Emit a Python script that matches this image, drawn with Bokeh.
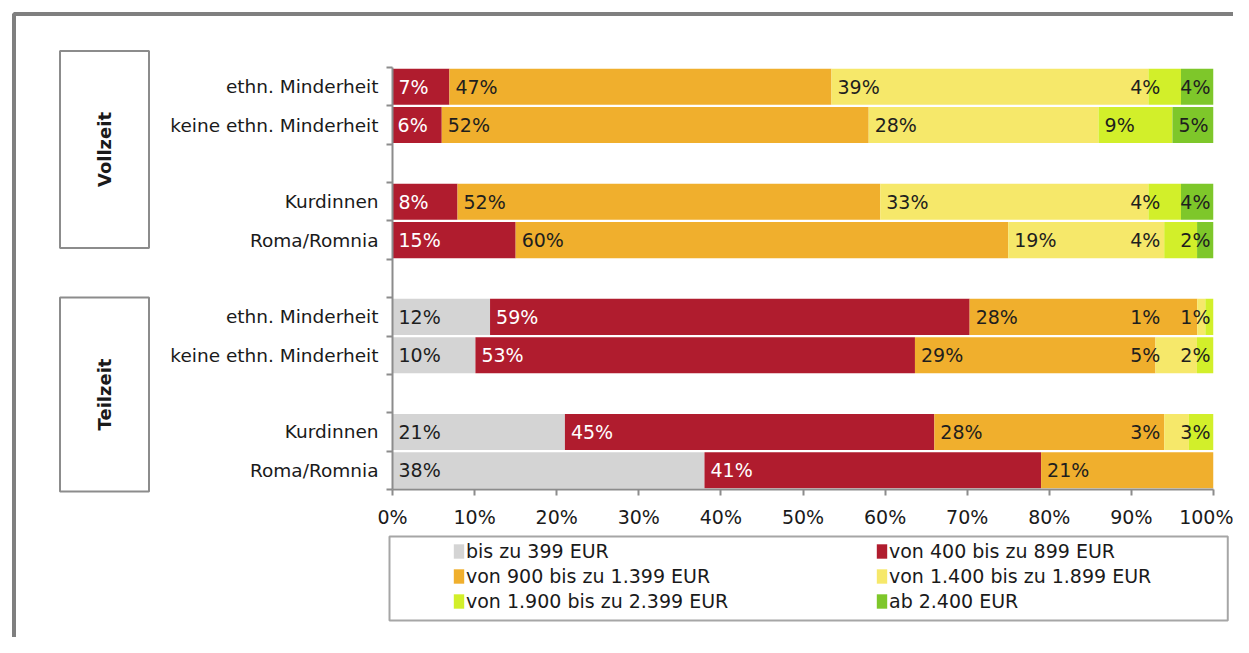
import numpy as np
from bokeh.plotting import figure
from bokeh.layouts import row, column
from bokeh.models import (Range1d, FixedTicker, Label, Legend, LegendItem)
from bokeh.core.properties import value
from bokeh.embed import file_html
from bokeh.resources import INLINE

# ---------------- data ----------------
groups = ["Vollzeit", "Teilzeit"]
categories = ["ethn. Minderheit", "keine ethn. Minderheit", "Kurdinnen", "Roma/Romnia",
              "ethn. Minderheit", "keine ethn. Minderheit", "Kurdinnen", "Roma/Romnia"]
series_names = ["bis zu 399 EUR", "von 400 bis zu 899 EUR", "von 900 bis zu 1.399 EUR",
                "von 1.400 bis zu 1.899 EUR", "von 1.900 bis zu 2.399 EUR", "ab 2.400 EUR"]
bis_399 = [0, 0, 0, 0, 12, 10, 21, 38]
von_400 = [7, 6, 8, 15, 59, 53, 45, 41]
von_900 = [47, 52, 52, 60, 28, 29, 28, 21]
von_1400 = [39, 28, 33, 19, 1, 5, 3, 0]
von_1900 = [4, 9, 4, 4, 1, 2, 3, 0]
ab_2400 = [4, 5, 4, 2, 0, 0, 0, 0]
colors = ["#d4d4d4", "#b01c2e", "#f0af2d", "#f6e86a", "#d2ef2a", "#7ec72a"]
label_colors = ["#1e1e1e", "#ffffff", "#1e1e1e", "#1e1e1e", "#1e1e1e", "#1e1e1e"]
x_ticks = [0, 10, 20, 30, 40, 50, 60, 70, 80, 90, 100]
x_tick_labels = ["0%", "10%", "20%", "30%", "40%", "50%", "60%", "70%", "80%", "90%", "100%"]

series = [bis_399, von_400, von_900, von_1400, von_1900, ab_2400]

# ---------------- layout constants (page pixels) ----------------
TOTAL_W, TOTAL_H = 1233, 637
DECO_W = 160                      # left strip with the group boxes
MAIN_H = 530                      # bars + x axis
LEG_H = TOTAL_H - MAIN_H          # legend strip
MAIN_W = TOTAL_W - DECO_W
FRAME_L, FRAME_T, FRAME_R, FRAME_B = 392, 67, 1213, 490
FONT = "DejaVu Sans"
GRAY = "#8c8c8c"
FRAME_GRAY = "#7f7f7f"

n = len(categories)
slots = [i + i // 2 for i in range(n)]          # blank slot after each pair
n_slots = slots[-1] + 1
centers = [s + 0.5 for s in slots]


def box_label(x, y, pad, color, width, fill=None):
    return Label(x=x, y=y, x_units="canvas", y_units="canvas", text=" ",
                 text_font_size="1px", text_align="left", text_baseline="top",
                 padding=pad, border_line_color=color, border_line_width=width,
                 background_fill_color=fill)


def plain(fig):
    fig.grid.visible = False
    fig.outline_line_color = None
    fig.background_fill_color = "white"
    fig.border_fill_color = "white"
    fig.frame_align = False


# ---------------- main figure ----------------
p = figure(width=MAIN_W, height=MAIN_H, output_backend="svg", toolbar_location=None,
           x_range=Range1d(0, 100), y_range=Range1d(n_slots, 0),
           min_border_left=FRAME_L - DECO_W, min_border_right=TOTAL_W - FRAME_R,
           min_border_top=FRAME_T, min_border_bottom=MAIN_H - FRAME_B)
plain(p)
PX = (FRAME_R - FRAME_L) / 100.0

# stacked (100%) bars
totals = [sum(s[i] for s in series) for i in range(n)]
norm = [[s[i] * 100.0 / totals[i] for i in range(n)] for s in series]
lefts = []
cum = [0.0] * n
for k, s in enumerate(norm):
    left = list(cum)
    right = [cum[i] + s[i] for i in range(n)]
    lefts.append(left)
    p.hbar(y=centers, left=left, right=right, height=0.94,
           fill_color=colors[k], line_color=None)
    cum = right

# value labels (left-aligned at segment start, pushed left if they would collide)
def text_w(t):
    return sum(12.1 if ch.isdigit() else 18.05 for ch in t)

lx, ly, lt, lc = [], [], [], []
for i in range(n):
    segs = [(lefts[k][i], series[k][i], k) for k in range(len(series)) if series[k][i] > 0]
    limit = 100 - 3 / PX
    for start, v, k in reversed(segs):
        t = f"{v}%"
        w = text_w(t) / PX
        x = min(start + 6 / PX, limit - w)
        limit = x - 20 / PX
        lx.append(x); ly.append(centers[i]); lt.append(t); lc.append(label_colors[k])
p.text(x=lx, y=ly, text=lt, text_color=lc, text_font=value(FONT), text_font_size="19px",
       text_align="left", text_baseline="middle")

# y axis
yax = p.yaxis[0]
yax.ticker = FixedTicker(ticks=centers, minor_ticks=list(range(n_slots + 1)))
yax.major_label_overrides = {c: lab for c, lab in zip(centers, categories)}
yax.axis_line_color = GRAY
yax.axis_line_width = 2
yax.major_tick_out = 0
yax.major_tick_in = 0
yax.minor_tick_out = 6
yax.minor_tick_in = 0
yax.minor_tick_line_color = GRAY
yax.minor_tick_line_width = 2
yax.major_label_standoff = 8
yax.major_label_text_font = FONT
yax.major_label_text_font_size = "18.5px"
yax.major_label_text_color = "#1a1a1a"

# x axis
xax = p.xaxis[0]
xax.ticker = FixedTicker(ticks=x_ticks, minor_ticks=[])
xax.major_label_overrides = {t: l for t, l in zip(x_ticks, x_tick_labels)}
xax.axis_line_color = GRAY
xax.axis_line_width = 2
xax.major_tick_out = 6
xax.major_tick_in = 0
xax.major_tick_line_color = GRAY
xax.major_tick_line_width = 2
xax.minor_tick_line_color = None
xax.major_label_standoff = 10
xax.major_label_text_font = FONT
xax.major_label_text_font_size = "19px"
xax.major_label_text_color = "#1a1a1a"

# top line of the outer frame (thin band in the top panel)
p.add_layout(box_label(-10, 11.5, (0, 1400, 0, 3), None, 0, fill=FRAME_GRAY), "above")

# ---------------- left strip: outer frame + group boxes ----------------
d = figure(width=DECO_W, height=TOTAL_H, output_backend="svg", toolbar_location=None,
           x_range=Range1d(0, 1), y_range=Range1d(0, 1),
           x_axis_location=None, y_axis_location=None,
           min_border_left=0, min_border_right=0, min_border_top=0, min_border_bottom=0)
plain(d)
d.add_layout(box_label(13.5, 13.5, (0, 1300, 0, 900), FRAME_GRAY, 4))
for g, yc in zip(groups, [149, 394]):
    d.add_layout(Label(x=104, y=yc, x_units="canvas", y_units="canvas", text=g,
                       angle=np.pi / 2, text_align="center", text_baseline="middle",
                       text_font=FONT, text_font_style="bold", text_font_size="18px",
                       text_color="#1a1a1a", padding=(61, 34),
                       border_line_color=GRAY, border_line_width=2))

# ---------------- bottom strip: legend ----------------
lg = figure(width=MAIN_W, height=LEG_H, output_backend="svg", toolbar_location=None,
            x_range=Range1d(0, 1), y_range=Range1d(0, 1),
            x_axis_location=None, y_axis_location=None,
            min_border_left=0, min_border_right=0, min_border_top=0, min_border_bottom=0)
plain(lg)
# zero-width proxy bars that only carry the legend swatches
leg_renderers = [lg.hbar(y=[0.5], left=[0], right=[0], height=0.5, fill_color=c, line_color=None)
                 for c in colors]
items = [LegendItem(label=nm, renderers=[r]) for nm, r in zip(series_names, leg_renderers)]
legend = Legend(items=items, orientation="horizontal", ncols=2,
                location=(452 - DECO_W, 25))
legend.glyph_width = 13
legend.glyph_height = 18
legend.label_standoff = 1
legend.label_width = 406
legend.label_height = 20
legend.spacing = 3
legend.padding = 0
legend.margin = 0
legend.border_line_color = None
legend.background_fill_alpha = 0
legend.label_text_font = FONT
legend.label_text_font_size = "19px"
legend.label_text_color = "#1a1a1a"
lg.add_layout(legend)
lg.add_layout(box_label(389 - DECO_W, 536 - MAIN_H, (0, 838, 0, 83), "#a6a6a6", 2))

layout = row(d, column(p, lg, spacing=0), spacing=0)
open("out.html", "w").write(file_html(layout, INLINE))
